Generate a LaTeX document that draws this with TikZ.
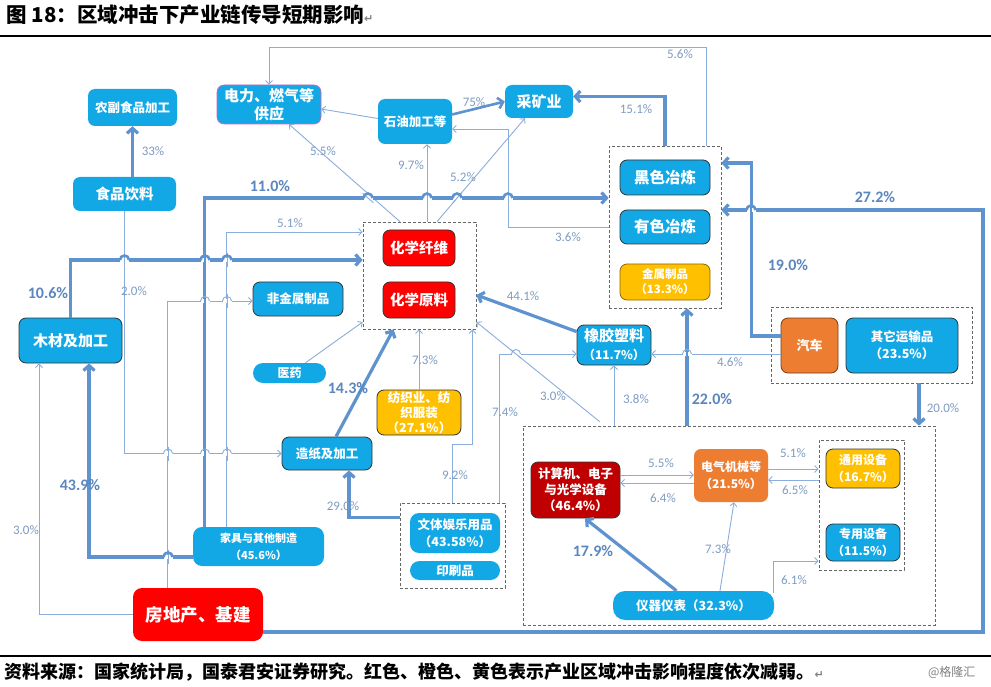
\documentclass[tikz,border=0pt]{standalone}
\usepackage{fontspec}
\setmainfont{Carlito}
\newfontfamily\cjk{Noto Sans CJK SC}
\newfontfamily\dejavu{DejaVu Sans}
\usetikzlibrary{arrows.meta,calc}
\definecolor{cblue}{HTML}{12A8E6}
\definecolor{cred}{HTML}{FF0000}
\definecolor{cdred}{HTML}{C00000}
\definecolor{corange}{HTML}{ED7D31}
\definecolor{cyellow}{HTML}{FFC000}
\definecolor{lineT}{HTML}{5E93CF}
\definecolor{lineS}{HTML}{8AAEDB}
\definecolor{labc}{HTML}{7E9CC2}
\definecolor{labB}{HTML}{5B86BE}
\definecolor{cmag}{HTML}{D860C0}
\newcommand\fsz[2]{\fontsize{#1}{#2}\selectfont}
% hop: #1,#2 crossing point; #3 style of the hopping (horizontal) line; #4 style of crossed line; #5,#6 half-vector of crossed line segment
\newcommand\hopat[6]{%
  \draw[white, line width=4.5pt] (#1-4.5,#2) -- (#1+4.5,#2);
  \draw[#4] (#1-#5,#2-#6) -- (#1+#5,#2+#6);
  \draw[#3] (#1-4.5,#2) arc[start angle=180,end angle=0,radius=4.5pt];}
\tikzset{
  bx/.style={rounded corners=7pt, fill=cblue, text=white, align=center, inner sep=0pt},
  bd/.style={draw=black!80, line width=0.8pt},
  grp/.style={draw=black!60, dash pattern=on 3pt off 2pt, line width=0.7pt, inner sep=0pt},
  thk/.style={draw=lineT, line width=3.2pt, -{Straight Barb[length=5pt,width=11pt]}},
  thn/.style={draw=lineS, line width=0.9pt, -{Straight Barb[length=3.5pt,width=7pt]}},
  hopT/.style={draw=lineT, line width=2.6pt},
  hopS/.style={draw=lineS, line width=0.9pt},
  lb/.style={text=labc, font=\fsz{13}{15}},
  lbb/.style={text=labB, font=\bfseries\fsz{16}{18}},
}
\begin{document}
\begin{tikzpicture}[x=1pt,y=-1pt]
\useasboundingbox (0,0) rectangle (991,687);
\fill[white] (0,0) rectangle (991,687);
% title and rules
\node[anchor=west, font=\cjk\bfseries\fsz{20.5}{23}] (title) at (3,15) {图 18：区域冲击下产业链传导短期影响{\dejavu\color{gray}\fsz{11}{11}↵}};
\draw[line width=1.2pt] (0,36) -- (991,36);
\draw[line width=1.4pt] (0,656) -- (991,656);
\node[anchor=west, font=\cjk\bfseries\fsz{18}{20}] (cap) at (1,672) {资料来源：国家统计局，国泰君安证券研究。红色、橙色、黄色表示产业区域冲击影响程度依次减弱。{\dejavu\color{gray}\fsz{11}{11}↵}};
\node[anchor=east, font=\cjk\fsz{12}{14}, text=gray] (wm) at (979,672) {@格隆汇};

% groups
\node[grp, minimum width=112, minimum height=162] (gm) at (665,227) {};
\node[grp, minimum width=113, minimum height=107] (gc) at (419.5,275.5) {};
\node[grp, minimum width=201, minimum height=76] (gt) at (871.5,345) {};
\node[grp, minimum width=412, minimum height=199] (ge) at (729,525.5) {};
\node[grp, minimum width=85, minimum height=130] (gs) at (861.5,505) {};
\node[grp, minimum width=105, minimum height=85] (gw) at (452.5,545.5) {};

% nodes
\node[bx, minimum width=89, minimum height=37, font=\cjk\bfseries\fsz{12.5}{15}] (nf) at (132.5,107.5) {农副食品加工};
\node[bx, minimum width=103, minimum height=34, font=\cjk\bfseries\fsz{14.5}{17}] (sp) at (124.5,194) {食品饮料};
\node[bx, draw=cmag, line width=0.6pt, minimum width=104, minimum height=39, font=\cjk\bfseries\fsz{15}{18}] (dl) at (269,104.5) {电力、燃气等\\供应};
\node[bx, minimum width=74, minimum height=45, font=\cjk\bfseries\fsz{12.5}{15}] (sy) at (415,121.5) {石油加工等};
\node[bx, minimum width=68, minimum height=33, font=\cjk\bfseries\fsz{15}{18}] (ck) at (539,101.5) {采矿业};
\node[bx, bd, minimum width=90, minimum height=35, font=\cjk\bfseries\fsz{15.5}{18}] (hs) at (665,177.5) {黑色冶炼};
\node[bx, bd, minimum width=90, minimum height=34, font=\cjk\bfseries\fsz{15.5}{18}] (ys) at (665,227) {有色冶炼};
\node[bx, fill=cyellow, draw=black!45!cyellow, line width=0.8pt, minimum width=90, minimum height=36, font=\cjk\bfseries\fsz{11.5}{15}] (js) at (665,282) {金属制品\\（13.3\%）};
\node[bx, bd, fill=cred, minimum width=72, minimum height=36, font=\cjk\bfseries\fsz{14.5}{17}] (hx) at (419,248) {化学纤维};
\node[bx, bd, fill=cred, minimum width=72, minimum height=36, font=\cjk\bfseries\fsz{14.5}{17}] (hy) at (419,300) {化学原料};
\node[bx, bd, minimum width=90, minimum height=34, font=\cjk\bfseries\fsz{12.5}{15}] (fj) at (298,299) {非金属制品};
\node[bx, rounded corners=10pt, minimum width=73, minimum height=20, font=\cjk\bfseries\fsz{12}{14}] (yy) at (289.5,373) {医药};
\node[bx, bd, minimum width=103, minimum height=45, font=\cjk\bfseries\fsz{15}{18}] (mc) at (70.5,340.5) {木材及加工};
\node[bx, bd, fill=cyellow, minimum width=84, minimum height=45, font=\cjk\bfseries\fsz{12.5}{15}] (fz) at (419,412.5) {纺织业、纺\\织服装\\（27.1\%）};
\node[bx, bd, minimum width=90, minimum height=33, font=\cjk\bfseries\fsz{12.5}{15}] (zz) at (327,453.5) {造纸及加工};
\node[bx, bd, minimum width=74, minimum height=40, font=\cjk\bfseries\fsz{15}{18}] (xj) at (614,345) {橡胶塑料\\{\fsz{12}{15}（11.7\%）}};
\node[bx, draw=black!50!corange, line width=0.8pt, fill=corange, minimum width=57, minimum height=55, font=\cjk\bfseries\fsz{13}{16}] (qc) at (809.5,345.5) {汽车};
\node[bx, bd, minimum width=112, minimum height=55, font=\cjk\bfseries\fsz{12.5}{17}] (qt) at (902,345.5) {其它运输品\\（23.5\%）};
\node[bx, bd, fill=cdred, minimum width=89, minimum height=56, font=\cjk\bfseries\fsz{12.5}{16}] (jsj) at (575.5,490) {计算机、电子\\与光学设备\\（46.4\%）};
\node[bx, fill=corange, minimum width=74, minimum height=53, font=\cjk\bfseries\fsz{12}{17}] (dq) at (731,475.5) {电气机械等\\（21.5\%）};
\node[bx, bd, fill=cyellow, minimum width=74, minimum height=39, font=\cjk\bfseries\fsz{12}{17}] (ty) at (863,468.5) {通用设备\\（16.7\%）};
\node[bx, bd, minimum width=74, minimum height=37, font=\cjk\bfseries\fsz{12}{17}] (zy) at (863,542.5) {专用设备\\（11.5\%）};
\node[bx, rounded corners=12pt, minimum width=161, minimum height=29, font=\cjk\bfseries\fsz{12.5}{15}] (yq) at (693.5,605.5) {仪器仪表（32.3\%）};
\node[bx, rounded corners=9pt, minimum width=90, minimum height=40, font=\cjk\bfseries\fsz{12.5}{17}] (wt) at (455,533) {文体娱乐用品\\（43.58\%）};
\node[bx, rounded corners=9.5pt, minimum width=90, minimum height=19, font=\cjk\bfseries\fsz{12.5}{15}] (yc) at (455,570.5) {印刷品};
\node[bx, rounded corners=9pt, minimum width=131, minimum height=39, font=\cjk\bfseries\fsz{11}{17}] (jj) at (258.5,546.5) {家具与其他制造\\（45.6\%）};
\node[bx, fill=cred, rounded corners=9pt, minimum width=130, minimum height=53, font=\cjk\bfseries\fsz{17.5}{20}] (fd) at (198,614.5) {房地产、基建};

% thin connectors
\draw[thn] ($(gm.north)+(41,0)$) |- ($(dl.north)+(0,-37)$) -- (dl.north);
\draw[thn] ($(sy.west)+(0,-3)$) -- ($(dl.east)+(0,4.5)$);
\draw[thn] ($(gc.north)+(-19.5,0)$) -- ($(dl.south)+(20,0)$);
\draw[thn] ($(gc.north)+(7.5,0)$) -- ($(sy.south)+(12,0)$);
\draw[thn] ($(gc.north)+(17.5,0)$) -- ($(ck.south)+(-14,0)$);
\draw[thn] (gm.west) -| ($(sy.east)+(56,7.5)$) -- ($(sy.east)+(0,7.5)$);
\draw[thn] ($(jj.north west)+(34,0)$) |- ($(gc.west)+(0,-43.5)$);
\draw[thn] (sp.south) |- (zz.west);
\draw[thn] ($(fd.north west)+(35,0)$) |- ($(fj.west)+(0,2)$);
\draw[thn] (fd.west) -| ($(mc.south)+(-31.5,0)$);
\draw[thn] ($(yy.north)+(16,0)$) -- ($(gc.west)+(0,46.5)$);
\draw[thn] (fz.north) -- (fz.north |- gc.south);
\draw[thn] (gw.north) -- ++(0,-58) -| ($(gc.south)+(53,0)$);
\draw[thn] ($(gw.north east)+(-6,0)$) |- ($(xj.west)+(0,9)$);
\draw[thn] ($(ge.north west)+(77,-4)$) -- ($(gc.east)+(0,46.5)$);
\draw[thn] (xj.south |- ge.north) -- (xj.south);
\draw[thn] ($(qc.west)+(0,8.5)$) -- ($(xj.east)+(0,9)$);
\draw[thn] ($(jsj.east)+(0,-15)$) -- ($(dq.west)+(0,-0.5)$);
\draw[thn] ($(dq.west)+(0,7.5)$) -- ($(jsj.east)+(0,-7)$);
\draw[thn] ($(dq.east)+(0,-6.5)$) -- ($(gs.west)+(0,-36)$);
\draw[thn] ($(gs.west)+(0,-25)$) -- ($(dq.east)+(0,4.5)$);
\draw[thn] ($(yq.north)+(26.5,0)$) -- ($(dq.south)+(3,0)$);
\draw[thn] ($(yq.north east)+(-1,2)$) |- ($(gs.west)+(0,56)$);

% thick connectors
\draw[thk] (nf.south |- sp.north) -- (nf.south);
\draw[thk, line width=2.6pt] ($(sy.east)+(0,-7)$) -- (ck.west);
\draw[thk] (gm.north) |- ($(ck.east)+(0,-5)$);
\draw[thk] ($(jj.north west)+(12,0)$) |- ($(gm.west)+(0,-29)$);
\draw[thk] (mc.north) |- ($(gc.west)+(0,-15.5)$);
\draw[thk] ($(jj.west)+(0,10.5)$) -| ($(mc.south)+(18.5,0)$);
\draw[thk] ($(zz.north)+(9,0)$) -- ($(gc.south)+(-26,0)$);
\draw[thk] ($(gw.west)+(0,-28)$) -| ($(zz.south)+(22,0)$);
\draw[thk] ($(xj.north west)+(0,7)$) -- ($(gc.east)+(0,19.5)$);
\draw[thk] ($(ge.north)+(-42,0)$) -- ($(gm.south)+(22,0)$);
\draw[thk] ($(qc.west)+(0,-9.5)$) -| ($(gm.east)+(30,-64)$) -- ($(gm.east)+(0,-64)$);
\coordinate (c272) at (983,210);
\draw[thk] ($(fd.east)+(0,17.5)$) -| (c272) -- ($(gm.east)+(0,-17)$);
\draw[thk] ($(gt.south)+(47.5,0)$) -- ($(ge.north)+(190,0)$);
\draw[thk] ($(yq.north)+(-17,0)$) -- ($(jsj.south)+(9.5,0)$);

% hops
\hopat{368}{198}{hopT}{hopS}{5.4}{4.8}
\hopat{427}{198}{hopT}{hopS}{0}{7}
\hopat{457}{198}{hopT}{hopS}{4.5}{-5.4}
\hopat{508}{198}{hopT}{hopS}{0}{7}
\hopat{124.5}{260}{hopT}{hopS}{0}{7}
\hopat{205}{260}{hopT}{hopT}{0}{7}
\hopat{227}{260}{hopT}{hopS}{0}{7}
\hopat{168}{557}{hopT}{hopS}{0}{7}
\hopat{751}{210}{hopT}{hopT}{0}{7}
\hopat{205}{301}{hopS}{hopT}{0}{7}
\hopat{227}{301}{hopS}{hopS}{0}{7}
\hopat{168}{453.5}{hopS}{hopS}{0}{7}
\hopat{205}{453.5}{hopS}{hopT}{0}{7}
\hopat{227}{453.5}{hopS}{hopS}{0}{7}
\hopat{687}{354}{hopS}{hopT}{0}{7}
\hopat{516}{354}{hopS}{hopS}{5.4}{4.4}

% thin labels
\node[lb] (l33) at (153,151) {33\%};
\node[lb] (l75) at (474,102) {75\%};
\node[lb] (l151) at (636,109) {15.1\%};
\node[lb] (l56) at (680,54) {5.6\%};
\node[lb] (l55a) at (323,151) {5.5\%};
\node[lb] (l97) at (411,165) {9.7\%};
\node[lb] (l52) at (463,177) {5.2\%};
\node[lb] (l36) at (568,237) {3.6\%};
\node[lb] (l51a) at (290,223) {5.1\%};
\node[lb] (l20) at (134,291) {2.0\%};
\node[lb] (l30a) at (26,530) {3.0\%};
\node[lb] (l73a) at (425,360) {7.3\%};
\node[lb] (l92) at (455,475) {9.2\%};
\node[lb] (l74) at (505,412) {7.4\%};
\node[lb] (l30b) at (553,396) {3.0\%};
\node[lb] (l38) at (636,399) {3.8\%};
\node[lb] (l46) at (730,362) {4.6\%};
\node[lb] (l55b) at (661,463) {5.5\%};
\node[lb] (l64) at (663,498) {6.4\%};
\node[lb] (l51b) at (793,453) {5.1\%};
\node[lb] (l65) at (795,490) {6.5\%};
\node[lb] (l73b) at (718,549) {7.3\%};
\node[lb] (l61) at (794,580) {6.1\%};
\node[lb] (l200) at (943,408) {20.0\%};
\node[lb] (l441) at (523,296) {44.1\%};
\node[lb] (l290) at (343,506) {29.0\%};
% bold labels
\node[lbb] (l110) at (270,186) {11.0\%};
\node[lbb] (l106) at (48,293) {10.6\%};
\node[lbb] (l439) at (80,485) {43.9\%};
\node[lbb] (l143) at (348,388) {14.3\%};
\node[lbb] (l220) at (712,399) {22.0\%};
\node[lbb] (l190) at (788,265) {19.0\%};
\node[lbb] (l272) at (875,197) {27.2\%};
\node[lbb] (l179) at (593,551) {17.9\%};
\end{tikzpicture}
\end{document}
